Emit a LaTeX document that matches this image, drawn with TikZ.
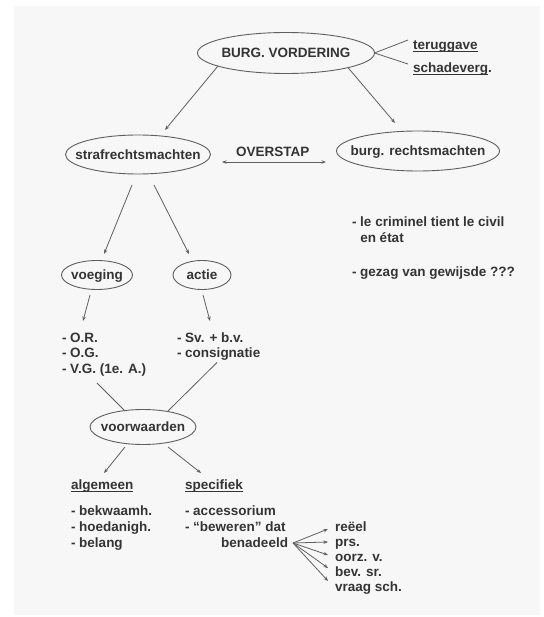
\documentclass[tikz,border=0pt]{standalone}
\usepackage{fontspec}
\setmainfont{Liberation Sans}
\usetikzlibrary{arrows.meta}
\definecolor{txt}{RGB}{52,52,52}
\definecolor{ln}{RGB}{95,95,95}
\definecolor{pg}{RGB}{247,247,247}
\newcommand\myul[1]{\setbox0\hbox{#1}\rlap{\rule[-2.4pt]{\wd0}{0.9pt}}\box0}
\begin{document}
\begin{tikzpicture}[x=1pt,y=-1pt,
  every node/.style={font=\fontsize{13.5}{15.5}\selectfont\bfseries, text=txt, inner sep=0pt, outer sep=0pt},
  ovaltext/.style={text height=9.7pt, text depth=0pt},
  oval/.style={draw=ln, line width=0.9pt},
  tl/.style={anchor=base west},
  con/.style={draw=ln, line width=0.8pt},
  arr/.style={con, -{Stealth[length=4.5pt,width=3.5pt]}},
  darr/.style={con, {Stealth[length=4.5pt,width=3.5pt]}-{Stealth[length=4.5pt,width=3.5pt]}},
]
\fill[white] (0,0) rectangle (543,617);
\fill[pg] (14,6) rectangle (540,615);
\useasboundingbox (0,0) rectangle (543,617);

% oval nodes
\node[ovaltext] (burg) at (286,53) {BURG. VORDERING};
\draw[oval] (burg.center) ellipse [x radius=88.5pt, y radius=20.5pt];
\node[ovaltext] (straf) at (138,154.5) {strafrechtsmachten};
\draw[oval] (straf.center) ellipse [x radius=72.5pt, y radius=19.5pt];
\node[ovaltext] (burgr) at (418,151) {burg. rechtsmachten};
\draw[oval] (burgr.center) ellipse [x radius=81.5pt, y radius=20pt];
\node[ovaltext] (voeg) at (97,275) {voeging};
\draw[oval] (voeg.center) ellipse [x radius=35.5pt, y radius=14.5pt];
\node[ovaltext] (actie) at (202,275) {actie};
\draw[oval] (actie.center) ellipse [x radius=29pt, y radius=14.5pt];
\node[ovaltext] (voorw) at (143,427) {voorwaarden};
\draw[oval] (voorw.center) ellipse [x radius=53pt, y radius=17.5pt];

% plain texts
\node[tl] (terug) at (413,50) {\myul{teruggave}};
\node[tl] (schade) at (413,73) {\myul{schadeverg}.};
\node[tl] (overstap) at (236,157) {OVERSTAP};

\node[tl] (crim1) at (352,227) {- le criminel tient le civil};
\node[tl] (crim2) at (352,242) {\phantom{- }en état};
\node[tl] (gezag) at (352,276) {- gezag van gewijsde ???};

\node[tl] (or) at (62,342) {- O.R.};
\node[tl] (og) at (62,357.5) {- O.G.};
\node[tl] (vg) at (62,373) {- V.G. (1e. A.)};
\node[tl] (sv) at (177,342) {- Sv. + b.v.};
\node[tl] (consig) at (177,357.5) {- consignatie};

\node[tl] (alg) at (71,489) {\myul{algemeen}};
\node[tl] (spec) at (185,489) {\myul{specifiek}};
\node[tl] (bekw) at (71,515) {- bekwaamh.};
\node[tl] (hoed) at (71,531) {- hoedanigh.};
\node[tl] (belang) at (71,547) {- belang};
\node[tl] (acc) at (185,515) {- accessorium};
\node[tl] (bew) at (185,531) {- “beweren” dat};
\node[anchor=base east] (benad) at (288,547) {benadeeld};

\node[tl] (r1) at (335,531) {reëel};
\node[tl] (r2) at (335,546) {prs.};
\node[tl] (r3) at (335,561) {oorz. v.};
\node[tl] (r4) at (335,576) {bev. sr.};
\node[tl] (r5) at (335,591) {vraag sch.};

% connectors
\draw[arr] ([shift={(-68,13)}]burg.center) -- ([shift={(27,-24.5)}]straf.center);
\draw[arr] ([shift={(62,14.6)}]burg.center) -- ([shift={(-23,-28)}]burgr.center);
\draw[con] ([shift={(88.5,0)}]burg.center) -- ([shift={(-5,-10)}]terug.base west);
\draw[con] ([shift={(88.5,0)}]burg.center) -- ([shift={(-5,-9)}]schade.base west);
\draw[darr] ([shift={(84,7.5)}]straf.center) -- ([shift={(-92,11)}]burgr.center);

\draw[arr] ([shift={(-6,30.5)}]straf.center) -- ([shift={(7,-21)}]voeg.center);
\draw[arr] ([shift={(16,30.5)}]straf.center) -- ([shift={(-13,-21)}]actie.center);
\draw[arr] ([shift={(-7,20)}]voeg.center) -- ([shift={(21,-21)}]or.base west);
\draw[arr] ([shift={(1,20)}]actie.center) -- ([shift={(33,-21)}]sv.base west);

\draw[con] ([shift={(35,10)}]vg.base west) -- ([shift={(-18,-16)}]voorw.center);
\draw[con] ([shift={(40,5)}]consig.base west) -- ([shift={(25,-16)}]voorw.center);
\draw[arr] ([shift={(-18,20)}]voorw.center) -- ([shift={(33,-16)}]alg.base west);
\draw[arr] ([shift={(25,20)}]voorw.center) -- ([shift={(16,-16)}]spec.base west);

\draw[arr] ([shift={(5,-4)}]benad.base east) -- ([shift={(-7,-2)}]r1.base west);
\draw[arr] ([shift={(5,-4)}]benad.base east) -- ([shift={(-7,-4)}]r2.base west);
\draw[arr] ([shift={(5,-4)}]benad.base east) -- ([shift={(-7,-6)}]r3.base west);
\draw[arr] ([shift={(5,-4)}]benad.base east) -- ([shift={(-7,-8)}]r4.base west);
\draw[arr] ([shift={(5,-4)}]benad.base east) -- ([shift={(-7,-10)}]r5.base west);
\end{tikzpicture}
\end{document}
